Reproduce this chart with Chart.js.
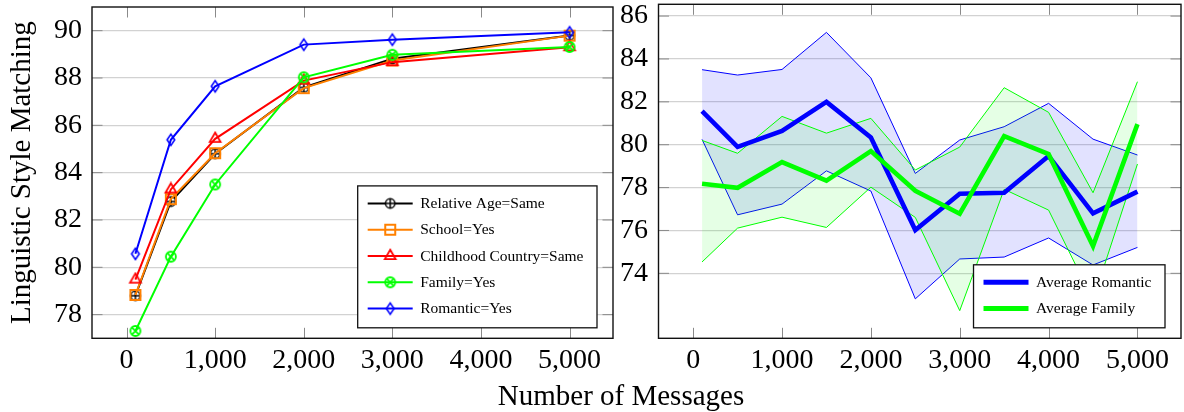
<!DOCTYPE html>
<html><head><meta charset="utf-8">
<script src="https://cdn.jsdelivr.net/npm/chart.js@4.4.0/dist/chart.umd.min.js"></script>
<style>
html,body{margin:0;padding:0;background:#fff;}
body{width:1184px;height:412px;position:relative;overflow:hidden;font-family:'Liberation Serif',serif;}
#c1{position:absolute;left:0;top:0;}
#c2{position:absolute;left:600px;top:0;}
#xt{position:absolute;left:0;width:1242px;top:381px;text-align:center;font-size:29px;line-height:28px;color:#000;white-space:nowrap;}
</style></head>
<body>
<canvas id="c1" width="620" height="412"></canvas>
<canvas id="c2" width="584" height="412"></canvas>
<div id="xt">Number of Messages</div>
<script>
// ---- data ----
const xTicks = [0, 1000, 2000, 3000, 4000, 5000];
const leftYTicks = [78, 80, 82, 84, 86, 88, 90];
const rightYTicks = [74, 76, 78, 80, 82, 84, 86];

const leftX = [100, 500, 1000, 2000, 3000, 5000];
const relativeAge = [78.80, 82.78, 84.80, 87.60, 88.81, 89.80];
const school      = [78.83, 82.88, 84.82, 87.57, 88.74, 89.79];
const childhood   = [79.48, 83.29, 85.43, 87.89, 88.67, 89.30];
const family      = [77.31, 80.45, 83.50, 88.03, 88.98, 89.31];
const romantic    = [80.57, 85.39, 87.65, 89.41, 89.62, 89.93];

const rightX = [100, 500, 1000, 1500, 2000, 2500, 3000, 3500, 4000, 4500, 5000];
const avgRomantic   = [81.57, 79.90, 80.64, 82.00, 80.34, 76.02, 77.71, 77.76, 79.47, 76.80, 77.81];
const romanticUpper = [83.50, 83.25, 83.51, 85.24, 83.12, 78.66, 80.22, 80.84, 81.93, 80.26, 79.52];
const romanticLower = [80.25, 76.73, 77.23, 78.78, 77.84, 72.81, 74.67, 74.76, 75.65, 74.39, 75.21];
const avgFamily     = [78.18, 77.99, 79.19, 78.32, 79.70, 77.85, 76.78, 80.40, 79.56, 75.27, 80.96];
const familyUpper   = [80.20, 79.60, 81.32, 80.54, 81.23, 78.82, 79.89, 82.66, 81.51, 77.76, 82.94];
const familyLower   = [74.53, 76.11, 76.62, 76.14, 78.02, 76.61, 72.26, 77.92, 76.95, 72.75, 79.10];

const leftLabels = ['Relative Age=Same', 'School=Yes', 'Childhood Country=Same', 'Family=Yes', 'Romantic=Yes'];
const rightLabels = ['Average Romantic', 'Average Family'];

// ---- styling ----
const FONT = "'Liberation Serif', 'Times New Roman', serif";
const BLACK = '#000000', ORANGE = 'rgb(255,128,0)', RED = '#ff0000', GREEN = '#00ff00', BLUE = '#0000ff';
const X_MIN = -390, X_MAX = 5490;
const LY_MIN = 77, LY_MAX = 91;
const RY_MIN = 70.97, RY_MAX = 86.55;

function markerCanvas(kind, color) {
  const c = document.createElement('canvas');
  c.width = 16; c.height = 16;
  const g = c.getContext('2d');
  const cx = 8, cy = 8;
  g.strokeStyle = color;
  g.lineJoin = 'miter';
  if (kind === 'oplus') {
    g.lineWidth = 1.5;
    g.beginPath(); g.arc(cx, cy, 4.7, 0, Math.PI * 2); g.fillStyle = '#fff'; g.fill(); g.stroke();
    g.beginPath(); g.moveTo(cx - 4.7, cy); g.lineTo(cx + 4.7, cy); g.moveTo(cx, cy - 4.7); g.lineTo(cx, cy + 4.7); g.stroke();
  } else if (kind === 'square') {
    g.lineWidth = 2;
    g.strokeRect(cx - 5, cy - 5, 10, 10);
  } else if (kind === 'triangle') {
    g.lineWidth = 1.8;
    const r = 6.2;
    g.beginPath();
    g.moveTo(cx, cy - r);
    g.lineTo(cx + r * Math.sqrt(3) / 2, cy + r / 2);
    g.lineTo(cx - r * Math.sqrt(3) / 2, cy + r / 2);
    g.closePath(); g.stroke();
  } else if (kind === 'otimes') {
    g.lineWidth = 1.8;
    const r = 5;
    g.beginPath(); g.arc(cx, cy, r, 0, Math.PI * 2); g.stroke();
    const d = r * Math.SQRT1_2;
    g.beginPath(); g.moveTo(cx - d, cy - d); g.lineTo(cx + d, cy + d); g.moveTo(cx + d, cy - d); g.lineTo(cx - d, cy + d); g.stroke();
  } else if (kind === 'diamond') {
    g.lineWidth = 1.6;
    g.beginPath();
    g.moveTo(cx, cy - 5.6); g.lineTo(cx + 3.8, cy); g.lineTo(cx, cy + 5.6); g.lineTo(cx - 3.8, cy);
    g.closePath(); g.stroke();
  }
  return c;
}

const framePlugin = {
  id: 'frame',
  beforeDatasetsDraw(chart) {
    const {ctx, chartArea: a, scales: {x, y}} = chart;
    ctx.save();
    ctx.strokeStyle = '#8a8a8a'; ctx.lineWidth = 1;
    ctx.beginPath();
    x.ticks.forEach(t => {
      const px = Math.round(x.getPixelForValue(t.value)) + 0.5;
      ctx.moveTo(px, a.top); ctx.lineTo(px, a.top + 10.5);
      ctx.moveTo(px, a.bottom); ctx.lineTo(px, a.bottom - 10.5);
    });
    y.ticks.forEach(t => {
      const py = y.getPixelForValue(t.value);
      ctx.moveTo(a.left, py); ctx.lineTo(a.left + 10.5, py);
      ctx.moveTo(a.right, py); ctx.lineTo(a.right - 10.5, py);
    });
    ctx.stroke();
    ctx.restore();
  },
  afterDatasetsDraw(chart) {
    const {ctx, chartArea: a} = chart;
    ctx.save();
    ctx.strokeStyle = '#111'; ctx.lineWidth = 1.4;
    ctx.strokeRect(a.left, a.top, a.right - a.left, a.bottom - a.top);
    ctx.restore();
  }
};

function legendPlugin(items, lineW) {
  return {
    id: 'boxLegend',
    afterDraw(chart) {
      const {ctx, chartArea: a} = chart;
      ctx.save();
      ctx.font = '15.5px ' + FONT;
      const textW = Math.max(...items.map(it => ctx.measureText(it.label).width));
      const padL = 10, sampleW = 45, gap = 7.5, padR = 13.5;
      const w = padL + sampleW + gap + textW + padR;
      const rowH = 26.3, top0 = 17.5, botPad = 19.2;
      const h = top0 + (items.length - 1) * rowH + botPad;
      const right = a.right - 16, bottom = a.bottom - 10.5;
      const left = right - w, top = bottom - h;
      ctx.fillStyle = '#fff'; ctx.fillRect(left, top, w, h);
      ctx.strokeStyle = '#111'; ctx.lineWidth = 1.3; ctx.strokeRect(left, top, w, h);
      items.forEach((it, i) => {
        const cy = top + top0 + i * rowH;
        ctx.strokeStyle = it.color; ctx.lineWidth = lineW; ctx.lineCap = 'butt';
        ctx.beginPath(); ctx.moveTo(left + padL, cy); ctx.lineTo(left + padL + sampleW, cy); ctx.stroke();
        if (it.marker) ctx.drawImage(it.marker, left + padL + sampleW / 2 - it.marker.width / 2, cy - it.marker.height / 2);
        ctx.fillStyle = '#000'; ctx.textBaseline = 'middle'; ctx.textAlign = 'left';
        ctx.fillText(it.label, left + padL + sampleW + gap, cy + 0.5);
      });
      ctx.restore();
    }
  };
}

const tickFont = {family: FONT, size: 28, lineHeight: 1.1};

function xScale() {
  return {
    type: 'linear', min: X_MIN, max: X_MAX,
    afterBuildTicks: s => { s.ticks = xTicks.map(v => ({value: v})); },
    ticks: {font: tickFont, color: '#000', padding: 7, maxRotation: 0, autoSkip: false,
            callback: v => Number(v).toLocaleString('en-US')},
    grid: {display: false, drawTicks: false},
    border: {display: false},
    afterFit: s => { s.height = 412 - 338.3; s.paddingLeft = 0; s.paddingRight = 0; }
  };
}

// ---- left chart ----
const leftSeries = [
  {label: leftLabels[0], values: relativeAge, color: BLACK, marker: markerCanvas('oplus', BLACK)},
  {label: leftLabels[1], values: school, color: ORANGE, marker: markerCanvas('square', ORANGE)},
  {label: leftLabels[2], values: childhood, color: RED, marker: markerCanvas('triangle', RED)},
  {label: leftLabels[3], values: family, color: GREEN, marker: markerCanvas('otimes', GREEN)},
  {label: leftLabels[4], values: romantic, color: BLUE, marker: markerCanvas('diamond', BLUE)}
];

new Chart(document.getElementById('c1'), {
  type: 'line',
  data: {
    datasets: leftSeries.map((s, i) => ({
      label: s.label,
      data: leftX.map((x, j) => ({x: x, y: s.values[j]})),
      borderColor: s.color, backgroundColor: s.color, borderWidth: 2,
      pointStyle: s.marker, pointRadius: 5, pointHoverRadius: 5,
      tension: 0, fill: false, order: leftSeries.length - 1 - i
    }))
  },
  options: {
    responsive: false, animation: false, events: [],
    layout: {padding: {top: 4.3, right: 6, left: 0, bottom: 0}},
    plugins: {legend: {display: false}, tooltip: {enabled: false}},
    scales: {
      x: xScale(),
      y: {
        type: 'linear', min: LY_MIN, max: LY_MAX,
        afterBuildTicks: s => { s.ticks = leftYTicks.map(v => ({value: v})); },
        ticks: {font: tickFont, color: '#000', padding: 10},
        grid: {color: '#d2d2d2', lineWidth: 1.2, drawTicks: false},
        border: {display: false},
        title: {display: true, text: 'Linguistic Style Matching', color: '#000',
                font: {family: FONT, size: 29}, padding: {top: 5, bottom: 0}},
        afterFit: s => { s.width = 92; s.paddingTop = 0; s.paddingBottom = 0; }
      }
    }
  },
  plugins: [framePlugin, legendPlugin(leftSeries.map(s => ({label: s.label, color: s.color, marker: s.marker})), 2)]
});

// ---- right chart ----
const pts = vals => rightX.map((x, j) => ({x: x, y: vals[j]}));
const rightSets = [
  {data: pts(romanticUpper), borderColor: BLUE, borderWidth: 1, fill: '+1', backgroundColor: 'rgba(0,0,255,0.115)'},
  {data: pts(romanticLower), borderColor: BLUE, borderWidth: 1, fill: false},
  {data: pts(familyUpper), borderColor: GREEN, borderWidth: 1, fill: '+1', backgroundColor: 'rgba(0,255,0,0.1)'},
  {data: pts(familyLower), borderColor: GREEN, borderWidth: 1, fill: false},
  {label: rightLabels[0], data: pts(avgRomantic), borderColor: BLUE, borderWidth: 4.6, fill: false},
  {label: rightLabels[1], data: pts(avgFamily), borderColor: GREEN, borderWidth: 4.6, fill: false}
].map((d, i, arr) => Object.assign({pointRadius: 0, tension: 0, order: arr.length - 1 - i}, d));

new Chart(document.getElementById('c2'), {
  type: 'line',
  data: {datasets: rightSets},
  options: {
    responsive: false, animation: false, events: [],
    layout: {padding: {top: 4.3, right: 3, left: 0, bottom: 0}},
    plugins: {legend: {display: false}, tooltip: {enabled: false}, filler: {drawTime: 'beforeDatasetDraw'}},
    scales: {
      x: xScale(),
      y: {
        type: 'linear', min: RY_MIN, max: RY_MAX,
        afterBuildTicks: s => { s.ticks = rightYTicks.map(v => ({value: v})); },
        ticks: {font: tickFont, color: '#000', padding: 10.5},
        grid: {color: '#d2d2d2', lineWidth: 1.2, drawTicks: false},
        border: {display: false},
        afterFit: s => { s.width = 58.5; s.paddingTop = 0; s.paddingBottom = 0; }
      }
    }
  },
  plugins: [framePlugin, legendPlugin([
    {label: rightLabels[0], color: BLUE},
    {label: rightLabels[1], color: GREEN}
  ], 5)]
});
</script>
</body></html>
